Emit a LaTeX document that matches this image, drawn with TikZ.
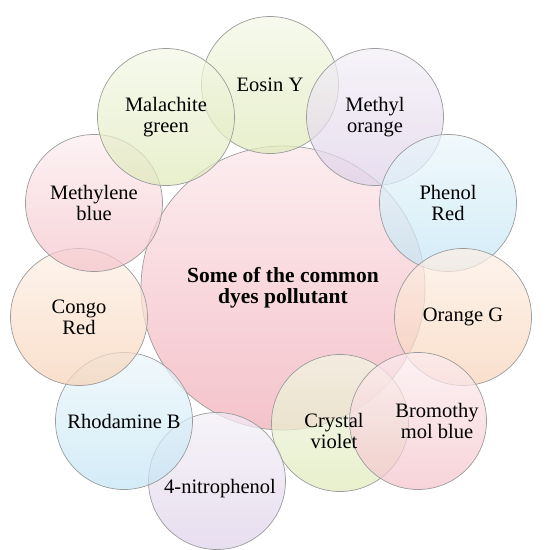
\documentclass[tikz,border=0pt]{standalone}
\usepackage{fontspec}
\setmainfont{Liberation Serif}
\definecolor{grnT}{HTML}{F3F7E6}
\definecolor{grnB}{HTML}{DFEABA}
\definecolor{lavT}{HTML}{F3EFF6}
\definecolor{lavB}{HTML}{DED1E9}
\definecolor{bluT}{HTML}{EBF6FB}
\definecolor{bluB}{HTML}{C3E5F4}
\definecolor{pchT}{HTML}{FDF0E6}
\definecolor{pchB}{HTML}{F7D3B8}
\definecolor{pnkT}{HTML}{FCEDF0}
\definecolor{pnkB}{HTML}{F4C3CA}
\definecolor{rim}{HTML}{9C9C9C}
\tikzset{
    dye/.style={circle,draw=rim,line width=0.7pt,minimum size=137pt,inner sep=0pt,
        align=center,fill opacity=0.72,text opacity=1,
        font=\fontsize{20.5}{21}\selectfont},
    dyetext/.style={align=center,font=\fontsize{20.5}{21}\selectfont},
    green/.style={top color=grnT,bottom color=grnB},
    lav/.style={top color=lavT,bottom color=lavB},
    blu/.style={top color=bluT,bottom color=bluB},
    pch/.style={top color=pchT,bottom color=pchB},
    pnk/.style={top color=pnkT,bottom color=pnkB}
}
\begin{document}
\begin{tikzpicture}[x=1pt,y=-1pt]
    \useasboundingbox (0,0) rectangle (546,550);
    \node[circle,draw=rim,line width=0.7pt,minimum size=284pt,inner sep=0pt,pnk,
        align=center,font=\fontsize{21.5}{21}\selectfont\bfseries]
        (hub) at (283,288) {Some of the common\\dyes pollutant};
    \node[dye,green] (eosin) at (270,85) {Eosin Y};
    \node[dye,lav] (methor) at (375,117) {Methyl\\orange};
    \node[dye,blu] (phenol) at (448,203) {Phenol\\Red};
    \node[dye,pch] (orangeg) at (463,317) {Orange G};
    \node[dye,green] (crystal) at (340,423) {};
    \node[dye,pnk,label={[xshift=19pt,dyetext]center:Bromothy\\mol blue}] (bromo) at (418,421) {};
    \node[dyetext,xshift=-6pt,yshift=-8pt] (crystaltxt) at (crystal) {Crystal\\violet};
    \node[dye,lav,label={[xshift=3pt,yshift=-8pt,dyetext]center:4-nitrophenol}] (nitro) at (217,481) {};
    \node[dye,blu] (rhod) at (124,421) {Rhodamine B};
    \node[dye,pch] (congo) at (79,317) {Congo\\Red};
    \node[dye,pnk] (methbl) at (94,203) {Methylene\\blue};
    \node[dye,green] (malach) at (166,117) {Malachite\\green};
\end{tikzpicture}
\end{document}
